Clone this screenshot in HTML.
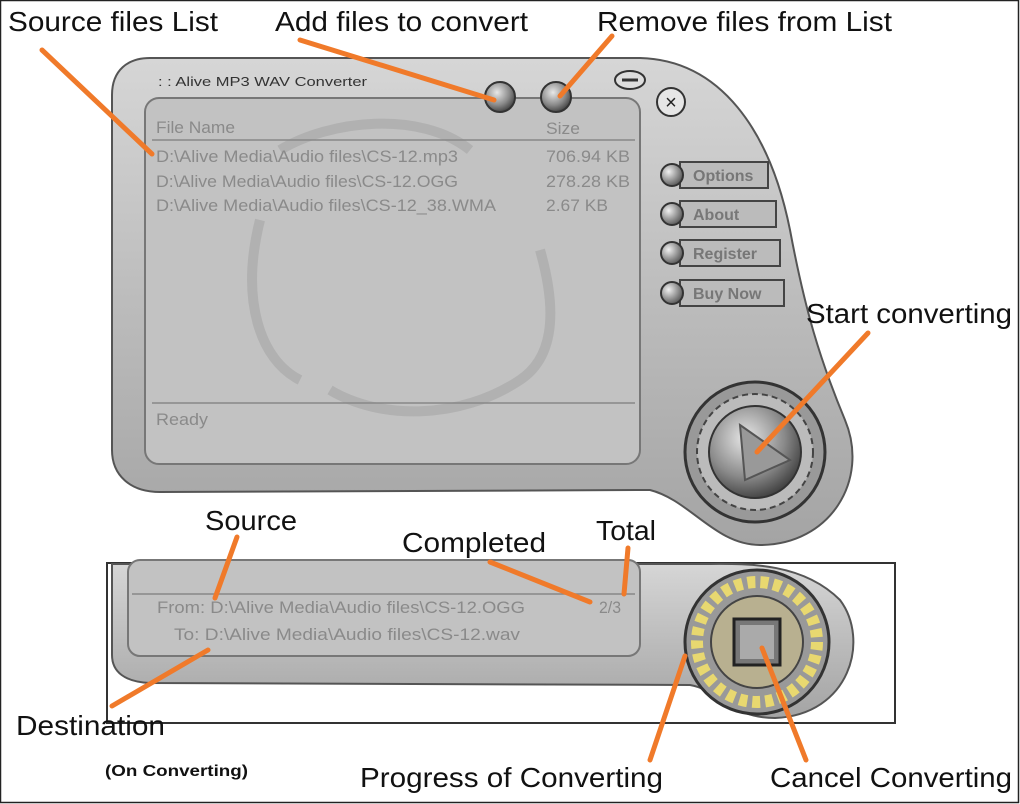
<!DOCTYPE html>
<html><head><meta charset="utf-8"><style>
html,body{margin:0;padding:0;background:#fff;}
svg{display:block;}
text{font-family:"Liberation Sans",Arial,sans-serif;}
</style></head><body>
<svg width="1020" height="804" viewBox="0 0 1020 804" xmlns="http://www.w3.org/2000/svg">
<defs>
<linearGradient id="body" x1="0" y1="0" x2="0" y2="1">
<stop offset="0" stop-color="#d6d6d6"/><stop offset="0.5" stop-color="#bcbcbc"/><stop offset="1" stop-color="#a4a4a4"/></linearGradient>
<radialGradient id="knob" cx="0.4" cy="0.35" r="0.7">
<stop offset="0" stop-color="#e8e8e8"/><stop offset="0.6" stop-color="#8a8a8a"/><stop offset="1" stop-color="#3a3a3a"/></radialGradient>
<radialGradient id="ball" cx="0.35" cy="0.35" r="0.7">
<stop offset="0" stop-color="#f0f0f0"/><stop offset="1" stop-color="#555"/></radialGradient>
</defs>
<rect x="0.5" y="0.5" width="1018" height="802" fill="#fff" stroke="#222" stroke-width="1.5"/>

<path d="M150,58 L640,58 C720,60 770,130 790,230 C805,310 820,360 845,420 C870,480 830,545 760,545 C715,545 690,500 650,490 L160,492 C130,492 112,475 112,450 L112,95 C112,70 128,58 150,58 Z" fill="url(#body)" stroke="#555" stroke-width="2"/>
<rect x="145" y="98" width="495" height="366" rx="14" fill="#c2c2c2" stroke="#777" stroke-width="2"/>
<path d="M280,150 C330,120 420,110 470,150 M260,220 C240,300 260,360 300,380 M330,390 C380,420 460,420 520,380 M540,250 C560,320 550,360 520,380" stroke="#aaa" stroke-width="10" fill="none" opacity="0.7"/>
<line x1="152" y1="140" x2="635" y2="140" stroke="#888" stroke-width="1.5"/>
<line x1="152" y1="403" x2="635" y2="403" stroke="#888" stroke-width="1.5"/>
<g font-size="17" fill="#8a8a8a" lengthAdjust="spacingAndGlyphs">
<text x="156" y="133" textLength="79" lengthAdjust="spacingAndGlyphs">File Name</text><text x="546" y="134" textLength="34" lengthAdjust="spacingAndGlyphs">Size</text>
<text x="156" y="162" textLength="302" lengthAdjust="spacingAndGlyphs">D:\Alive Media\Audio files\CS-12.mp3</text><text x="546" y="162" textLength="84" lengthAdjust="spacingAndGlyphs">706.94 KB</text>
<text x="156" y="187" textLength="302" lengthAdjust="spacingAndGlyphs">D:\Alive Media\Audio files\CS-12.OGG</text><text x="546" y="187" textLength="84" lengthAdjust="spacingAndGlyphs">278.28 KB</text>
<text x="156" y="211" textLength="340" lengthAdjust="spacingAndGlyphs">D:\Alive Media\Audio files\CS-12_38.WMA</text><text x="546" y="211" textLength="62" lengthAdjust="spacingAndGlyphs">2.67 KB</text>
<text x="156" y="425" textLength="52" lengthAdjust="spacingAndGlyphs">Ready</text>
</g>
<text x="158" y="86" font-size="13" fill="#333" textLength="209" lengthAdjust="spacingAndGlyphs">: :  Alive MP3 WAV Converter</text>
<circle cx="500" cy="97" r="15" fill="url(#knob)" stroke="#333" stroke-width="2"/>
<circle cx="556" cy="97" r="15" fill="url(#knob)" stroke="#333" stroke-width="2"/>
<ellipse cx="630" cy="80" rx="15" ry="9" fill="#ddd" stroke="#333" stroke-width="2"/>
<line x1="622" y1="80" x2="638" y2="80" stroke="#333" stroke-width="3"/>
<circle cx="671" cy="102" r="14" fill="#e6e6e6" stroke="#333" stroke-width="2"/>
<text x="671" y="109" font-size="20" text-anchor="middle" fill="#222">×</text>
<g font-size="16" fill="#777" font-weight="bold">
<g><rect x="680" y="162" width="88" height="26" fill="#bbb" stroke="#444" stroke-width="2"/><circle cx="672" cy="175" r="11" fill="url(#ball)" stroke="#333" stroke-width="2"/><text x="693" y="181">Options</text></g>
<g><rect x="680" y="201" width="96" height="26" fill="#bbb" stroke="#444" stroke-width="2"/><circle cx="672" cy="214" r="11" fill="url(#ball)" stroke="#333" stroke-width="2"/><text x="693" y="220">About</text></g>
<g><rect x="680" y="240" width="100" height="26" fill="#bbb" stroke="#444" stroke-width="2"/><circle cx="672" cy="253" r="11" fill="url(#ball)" stroke="#333" stroke-width="2"/><text x="693" y="259">Register</text></g>
<g><rect x="680" y="280" width="104" height="26" fill="#bbb" stroke="#444" stroke-width="2"/><circle cx="672" cy="293" r="11" fill="url(#ball)" stroke="#333" stroke-width="2"/><text x="693" y="299">Buy Now</text></g>
</g>
<circle cx="755" cy="452" r="70" fill="#999" stroke="#333" stroke-width="3"/>
<circle cx="755" cy="452" r="58" fill="#bbb" stroke="#444" stroke-width="2" stroke-dasharray="6 4"/>
<circle cx="755" cy="452" r="46" fill="url(#knob)" stroke="#333" stroke-width="2"/>
<path d="M740,425 L790,460 L745,480 Z" fill="#999" stroke="#555" stroke-width="2"/>

<rect x="107" y="563" width="788" height="160" fill="#fff" stroke="#333" stroke-width="2"/>
<path d="M112,564 L700,564 C740,564 800,560 840,600 C870,640 850,715 775,718 C730,718 720,690 690,685 L150,683 C125,682 112,672 112,655 Z" fill="url(#body)" stroke="#555" stroke-width="2"/>
<rect x="128" y="560" width="512" height="96" rx="12" fill="#c2c2c2" stroke="#777" stroke-width="2"/>
<line x1="132" y1="594" x2="635" y2="594" stroke="#888" stroke-width="1.5"/>
<g font-size="17" fill="#8a8a8a">
<text x="157" y="613" textLength="368" lengthAdjust="spacingAndGlyphs">From: D:\Alive Media\Audio files\CS-12.OGG</text>
<text x="599" y="613" textLength="22" lengthAdjust="spacingAndGlyphs">2/3</text>
<text x="174" y="640" textLength="346" lengthAdjust="spacingAndGlyphs">To: D:\Alive Media\Audio files\CS-12.wav</text>
</g>
<circle cx="757" cy="642" r="72" fill="#999" stroke="#333" stroke-width="3"/>
<circle cx="757" cy="642" r="60" fill="none" stroke="#e8d870" stroke-width="12" stroke-dasharray="8 5"/>
<circle cx="757" cy="642" r="46" fill="#b8b090" stroke="#444" stroke-width="2"/>
<rect x="734" y="619" width="46" height="46" fill="#777" stroke="#222" stroke-width="3"/>
<rect x="740" y="625" width="34" height="34" fill="#aaa"/>

<g stroke="#f07a2a" stroke-width="5" stroke-linecap="round">
<line x1="42" y1="50" x2="152" y2="154"/>
<line x1="300" y1="40" x2="494" y2="100"/>
<line x1="612" y1="36" x2="560" y2="96"/>
<line x1="868" y1="333" x2="757" y2="452"/>
<line x1="237" y1="537" x2="215" y2="598"/>
<line x1="490" y1="562" x2="590" y2="602"/>
<line x1="628" y1="548" x2="624" y2="594"/>
<line x1="112" y1="706" x2="208" y2="650"/>
<line x1="650" y1="760" x2="685" y2="656"/>
<line x1="806" y1="760" x2="762" y2="648"/>
</g>

<g font-size="28" fill="#111">
<text x="8" y="31" textLength="210" lengthAdjust="spacingAndGlyphs">Source files List</text>
<text x="275" y="31" textLength="253" lengthAdjust="spacingAndGlyphs">Add files to convert</text>
<text x="597" y="31" textLength="295" lengthAdjust="spacingAndGlyphs">Remove files from List</text>
<text x="806" y="323" textLength="206" lengthAdjust="spacingAndGlyphs">Start converting</text>
<text x="205" y="530" textLength="92" lengthAdjust="spacingAndGlyphs">Source</text>
<text x="402" y="552" textLength="144" lengthAdjust="spacingAndGlyphs">Completed</text>
<text x="596" y="540" textLength="60" lengthAdjust="spacingAndGlyphs">Total</text>
<text x="16" y="735" textLength="149" lengthAdjust="spacingAndGlyphs">Destination</text>
<text x="360" y="787" textLength="303" lengthAdjust="spacingAndGlyphs">Progress of Converting</text>
<text x="770" y="787" textLength="242" lengthAdjust="spacingAndGlyphs">Cancel Converting</text>
</g>
<text x="105" y="776" font-size="16" font-weight="bold" fill="#111" textLength="143" lengthAdjust="spacingAndGlyphs">(On Converting)</text>
</svg>
</body></html>
